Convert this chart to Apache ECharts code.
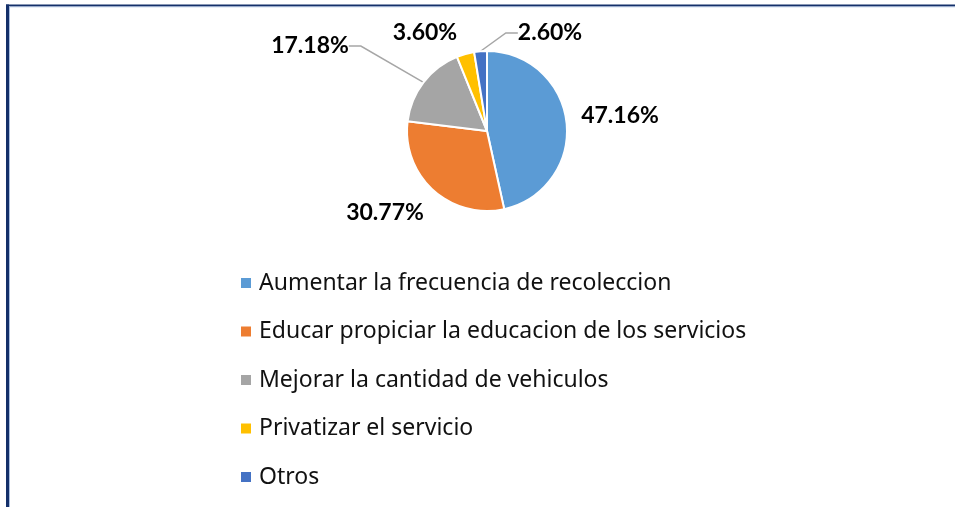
<!DOCTYPE html>
<html>
<head>
    <meta charset="UTF-8">
    <script type="text/javascript" src="https://cdn.jsdelivr.net/npm/echarts@6/dist/echarts.min.js"></script>
</head>
<style>
    html, body { margin: 0; padding: 0; background: #fff; }
</style>
<body>
<div id="main" style="width: 955px;height:507px;"></div>
<script>
    // categorias y valores (%)
    var categorias = [
        'Aumentar la frecuencia de recoleccion',
        'Educar propiciar la educacion de los servicios',
        'Mejorar la cantidad de vehiculos',
        'Privatizar el servicio',
        'Otros'
    ]
    var valores = [47.16, 30.77, 17.18, 3.60, 2.60]
    var colores = ['#5B9BD5', '#ED7D31', '#A5A5A5', '#FFC000', '#4472C4']
    // donde va cada etiqueta (centro del texto)
    var posEtiquetas = [[620, 116], [385, 213], [310, 46], [425, 33], [550, 33]]
    var conLinea = [false, false, true, false, true]

    var chart = echarts.init(document.getElementById('main'));

    var datos = []
    for (var i = 0; i < categorias.length; i++) {
        datos.push({
            name: categorias[i],
            value: valores[i],
            itemStyle: {color: colores[i]},
            labelLine: {show: conLinea[i]}
        })
    }

    var option = {
        animation: false,
        backgroundColor: '#fff',
        graphic: [
            // marco (izquierda y arriba)
            {type: 'rect', shape: {x: 6, y: 4.5, width: 949, height: 2}, style: {fill: '#14306A'}},
            {type: 'rect', shape: {x: 9, y: 6.5, width: 946, height: 0.8}, style: {fill: '#A9BEE0'}},
            {type: 'rect', shape: {x: 6, y: 4.5, width: 3, height: 503}, style: {fill: '#14306A'}},
            {type: 'rect', shape: {x: 9, y: 6.5, width: 1, height: 501}, style: {fill: '#A9BEE0'}}
        ],
        legend: {
            orient: 'vertical',
            left: 236,
            top: 266,
            icon: 'rect',
            itemWidth: 10,
            itemHeight: 10,
            itemGap: 24.5,
            itemStyle: {borderWidth: 0},
            textStyle: {
                fontFamily: 'Noto Sans',
                fontSize: 23,
                lineHeight: 24,
                color: '#111',
                padding: [0, 0, 0, 3]
            },
            data: categorias
        },
        series: [{
            type: 'pie',
            center: [487, 131],
            radius: 80,
            startAngle: 90,
            clockwise: true,
            itemStyle: {borderColor: '#fff', borderWidth: 2},
            label: {
                show: true,
                position: 'outside',
                formatter: function (p) {
                    return p.value.toFixed(2) + '%'
                },
                fontFamily: 'Lato',
                fontWeight: 'bold',
                fontSize: 23,
                color: '#000'
            },
            labelLine: {
                length: 10,
                length2: 12,
                lineStyle: {color: '#A6A6A6', width: 1.5}
            },
            labelLayout: function (params) {
                var p = posEtiquetas[params.dataIndex]
                return {
                    x: p[0],
                    y: p[1],
                    align: 'center',
                    verticalAlign: 'middle'
                }
            },
            emphasis: {disabled: true},
            data: datos
        }]
    };
    chart.setOption(option);
</script>
</body>
</html>
